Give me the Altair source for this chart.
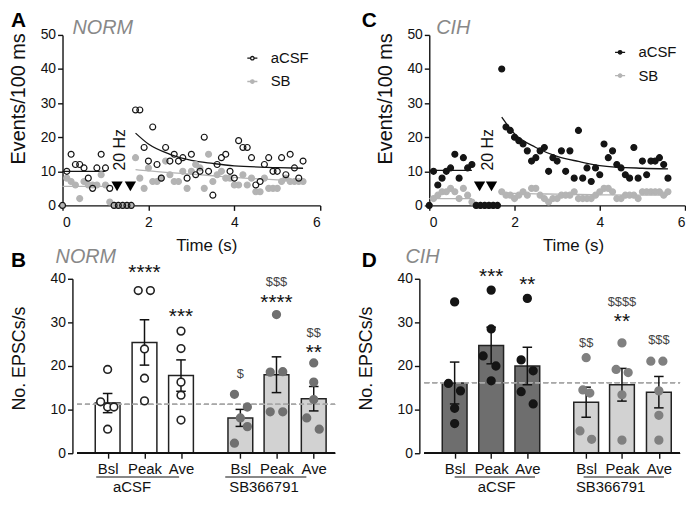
import altair as alt
import pandas as pd

FONT = "Liberation Sans"
BLACK = "#151515"
LIGHT = "#b4b4b4"

# ---------------- time-course data (events per 100 ms bin) ----------------
bins = [round(0.1 * i, 1) for i in range(57)]  # 0.0 ... 5.6 s

norm_acsf = [0, 10, 15, 12, 12, 11, 8, 5, 11, 15, 11, 5,
             0, 0, 0, 0, 0,
             28, 28, 17, 13, 23, 12, 8, 17, 13, 15, 13, 14, 8, 15, 9, 10, 20, 10, 3, 12,
             14, 15, 10, 8, 19, 17, 17, 14, 6, 7, 12, 14, 10, 10, 14, 9, 15, 11, 8, 13]
norm_sb = [0, 8, 7, 6, 2, 7, 6, 6, 6, 9, 6, 1,
           0, 0, 0, 0, 0,
           14, 8, 5, 11, 7, 7, 8, 13, 9, 7, 7, 10, 5, 10, 12, 11, 5, 15, 7, 9,
           10, 8, 8, 6, 6, 9, 6, 8, 4, 4, 8, 5, 5, 5, 7, 8, 7, 7, 7, 7]
cih_acsf = [0, 10, 6, 8, 10, 11, 15, 8, 14, 11, 12,
            0, 0, 0, 0, 0, 0,
            40, 23, 22, 20, 19, 18, 16, 13, 14, 16, 17, 10, 14, 13, 16, 10, 16, 8, 22, 8,
            11, 7, 11, 9, 18, 14, 16, 12, 11, 9, 8, 17, 8, 13, 9, 13, 13, 14, 12, 8]
cih_sb = [0, 2, 3, 4, 4, 5, 4, 2, 5, 3, 1,
          0, 0, 0, 0, 0, 0,
          4, 3, 3, 2, 3, 4, 3, 5, 5, 3, 2, 1, 2, 2, 3, 3, 3, 4, 2, 2,
          2, 2, 3, 4, 5, 5, 4, 2, 2, 3, 3, 3, 2, 4, 4, 4, 4, 4, 3, 4]

# fitted curves
fit_t = [0.0, 1.0, 1.7, 2.0, 2.5, 3.0, 3.5, 4.0, 5.0, 5.6]
fit_seg = ["base", "base", "post", "post", "post", "post", "post", "post", "post", "post"]
norm_acsf_fit = [10, 10, 21.2, 18, 15, 13.2, 12.3, 11.6, 11.1, 10.9]
norm_sb_fit = [5.6, 5.6, 10.5, 10.1, 9.6, 9.2, 8.7, 8.2, 7.5, 7.2]
cih_acsf_fit = [10.3, 10.3, 25.9, 21, 17, 14.4, 12.9, 11.7, 10.9, 10.7]
cih_sb_fit = [2.0, 2.0, 3.6, 3.5, 3.4, 3.3, 3.2, 3.1, 3.0, 3.0]

series_names = ["aCSF", "SB"]

# ---------------- summary (bar) data ----------------
bar_pos = [0.83, 1.83, 2.82, 4.43, 5.41, 6.42]
cat_labels = ["Bsl", "Peak", "Ave", "Bsl", "Peak", "Ave"]

norm_means = [11.5, 25.4, 17.8, 8.1, 18.0, 12.5]
norm_sems = [2.2, 5.2, 3.6, 1.95, 4.1, 2.8]
norm_points = [[19.2, 11.8, 10.6, 10.6, 5.5], [37.3, 37.3, 23.9, 17.2, 12.0],
               [28.0, 24.0, 16.3, 13.3, 7.6], [13.5, 10.6, 8.1, 6.1, 2.3],
               [31.8, 18.6, 18.7, 9.5, 9.5], [20.7, 16.3, 12.3, 8.1, 5.5]]
norm_jitter = [[0, -0.19, 0, 0.17, 0], [-0.17, 0.16, 0, 0, 0], [0, 0, 0, 0, 0],
               [-0.16, 0.19, 0, 0.19, -0.16], [0, -0.17, 0.17, -0.17, 0.17],
               [0, 0, 0, -0.19, 0.15]]
norm_stars = ["", "****", "***", "", "****", "**"]
norm_star_y = [0, 42.3, 32.2, 0, 35.4, 23.9]
norm_dollars = ["", "", "", "$", "$$$", "$$"]
norm_dollar_y = [0, 0, 0, 17.8, 39.0, 27.3]
norm_ref = 11.2

cih_means = [16.1, 24.7, 20.0, 11.7, 15.7, 14.0]
cih_sems = [4.8, 4.2, 4.3, 3.45, 3.75, 3.6]
cih_points = [[34.7, 16.0, 14.3, 10.3, 6.8], [37.4, 28.5, 22.3, 20.0, 16.6],
              [35.5, 21.4, 18.9, 14.1, 11.3], [21.9, 14.5, 13.8, 5.1, 3.2],
              [25.3, 19.2, 18.5, 13.4, 3.0], [21.1, 21.1, 14.3, 8.7, 3.0]]
cih_jitter = [[0, -0.17, 0.16, 0, 0], [0, 0, -0.22, 0.13, 0], [0, -0.17, 0.16, -0.17, 0.16],
              [0, -0.09, 0.1, -0.17, 0.15], [0, -0.16, 0.17, 0, 0], [-0.22, 0.11, 0, 0, 0]]
cih_stars = ["", "***", "**", "", "**", ""]
cih_star_y = [0, 41.4, 39.6, 0, 31.2, 0]
cih_dollars = ["", "", "", "$$", "$$$$", "$$$"]
cih_dollar_y = [0, 0, 0, 24.9, 34.3, 25.7]
cih_ref = 16.2

groups = ["aCSF", "SB366791"]
norm_group_x = [1.49, 5.07]
norm_line_x1 = [0.52, 4.02]
norm_line_x2 = [2.77, 6.22]
cih_group_x = [1.98, 5.1]
cih_line_x1 = [0.83, 4.36]
cih_line_x2 = [3.03, 6.56]

LEG_PATH = ("M-1.45,0L-0.55,0M0.55,0L1.45,0"
            "M0.5,0A0.5,0.5,0,1,1,-0.5,0A0.5,0.5,0,1,1,0.5,0Z")


def label_layer(letter, lx, ly, cond, cx, cy):
    df = pd.DataFrame({"a": [0]})
    let = alt.Chart(df).mark_text(font=FONT, fontSize=21, fontWeight="bold", color="#000",
                                  align="left", baseline="top").encode(
        x=alt.value(lx), y=alt.value(ly), text=alt.value(letter))
    con = alt.Chart(df).mark_text(font=FONT, fontSize=20, fontStyle="italic", color="#888",
                                  align="left", baseline="alphabetic").encode(
        x=alt.value(cx), y=alt.value(cy), text=alt.value(cond))
    return [let, con]


def time_panel(acsf, sb, acsf_fit, sb_fit, acsf_fill, letter, cond, lx, cx,
               leg_x, leg_y, stim_t, hz_t, width):
    pts = pd.DataFrame({"t": bins * 2, "v": acsf + sb,
                        "series": [series_names[0]] * len(bins) + [series_names[1]] * len(bins)})
    fit = pd.DataFrame({"t": fit_t * 2, "v": acsf_fit + sb_fit,
                        "col": [BLACK] * len(fit_t) + [LIGHT] * len(fit_t),
                        "seg": fit_seg * 2})
    fit["key"] = fit["col"] + fit["seg"]
    stim = pd.DataFrame({"t": stim_t, "v": [5.6] * len(stim_t)})
    hz = pd.DataFrame({"t": [hz_t], "v": [16.3], "txt": ["20 Hz"]})

    xs = alt.Scale(domain=[0, 6], nice=False)
    ys = alt.Scale(domain=[0, 50], nice=False)
    xax = alt.Axis(values=[0, 2, 4, 6], title="Time (s)", labelPadding=5, titlePadding=8,
                   titleFontSize=17, titleX=145)
    yax = alt.Axis(values=[0, 10, 20, 30, 40, 50], title="Events/100 ms", titlePadding=12,
                   labelOverlap=False, titleFontSize=20, titleY=64)
    X = alt.X("t:Q", scale=xs, axis=xax)
    Y = alt.Y("v:Q", scale=ys, axis=yax)
    stroke_sc = alt.Scale(domain=series_names, range=[BLACK, LIGHT])
    fill_sc = alt.Scale(domain=series_names, range=[acsf_fill, LIGHT])
    leg = alt.Legend(title=None, orient="none", legendX=leg_x, legendY=leg_y,
                     symbolType=LEG_PATH, symbolSize=49, symbolStrokeWidth=1.3,
                     labelFont=FONT, labelFontSize=15, labelColor="#111",
                     labelOffset=11, rowPadding=7.5, padding=0)

    lines = alt.Chart(fit).mark_line(strokeWidth=1.3, interpolate="monotone").encode(
        x=X, y=Y, stroke=alt.Stroke("col:N", scale=None), detail="key:N")
    sb_layer = alt.Chart(pts[pts.series == "SB"]).mark_point(
        filled=True, size=36, strokeWidth=1.2, opacity=1).encode(
        x=X, y=Y,
        fill=alt.Fill("series:N", scale=fill_sc, legend=leg),
        stroke=alt.Stroke("series:N", scale=stroke_sc, legend=leg))
    ac_layer = alt.Chart(pts[pts.series == "aCSF"]).mark_point(
        filled=True, size=36, strokeWidth=1.2, opacity=1).encode(
        x=X, y=Y,
        fill=alt.Fill("series:N", scale=fill_sc, legend=leg),
        stroke=alt.Stroke("series:N", scale=stroke_sc, legend=leg))
    tri = alt.Chart(stim).mark_point(shape="triangle-down", filled=True, size=130,
                                     color="#000", opacity=1).encode(x=X, y=Y)
    hzt = alt.Chart(hz).mark_text(font=FONT, fontSize=16, angle=270, color="#111",
                                  baseline="middle", align="center").encode(
        x=X, y=Y, text="txt:N")
    layers = [lines, sb_layer, ac_layer, tri, hzt] + label_layer(letter, lx, -25, cond, cx, -1)
    return alt.layer(*layers).properties(width=width, height=172)


def bar_panel(means, sems, points, jitter, stars, star_y, dollars, dollar_y, ref,
              fills, pt_fill, pt_stroke, group_x, line_x1, line_x2,
              letter, cond, lx, cx, width, x_min, y_offset):
    bars = pd.DataFrame({"pos": bar_pos, "mean": means, "sem": sems,
                         "fill": fills, "cat": cat_labels})
    bars["lo"] = bars["mean"] - bars["sem"]
    bars["hi"] = bars["mean"] + bars["sem"]
    caps = pd.DataFrame({"x1": [p - 0.13 for p in bar_pos] * 2,
                         "x2": [p + 0.13 for p in bar_pos] * 2,
                         "y": list(bars["lo"]) + list(bars["hi"])})
    rows = []
    for i, p in enumerate(bar_pos):
        for v, j in zip(points[i], jitter[i]):
            rows.append({"x": p + j, "v": v, "f": pt_fill[i], "s": pt_stroke[i]})
    pts = pd.DataFrame(rows)
    st = pd.DataFrame({"pos": bar_pos, "y": star_y, "txt": stars})
    st = st[st.txt != ""]
    dl = pd.DataFrame({"pos": bar_pos, "y": dollar_y, "txt": dollars})
    dl = dl[dl.txt != ""]
    grp = pd.DataFrame({"x": group_x, "x1": line_x1, "x2": line_x2, "txt": groups})

    xs = alt.Scale(domain=[x_min, 7], nice=False, zero=False)
    ys = alt.Scale(domain=[0, 40], nice=False)
    lab_expr = ("['Bsl','Peak','Ave','Bsl','Peak','Ave'][indexof(" +
                str(bar_pos) + ", datum.value)]")
    xax = alt.Axis(values=bar_pos, labelExpr=lab_expr, title=None, labelFontSize=15,
                   labelPadding=3, labelFlush=False, labelOverlap=False, domain=False)
    yax = alt.Axis(values=[0, 10, 20, 30, 40], title="No. EPSCs/s", titlePadding=22,
                   labelOverlap=False, offset=y_offset, titleFontSize=18, titleY=80)

    base_bar = alt.Chart(bars).mark_bar(size=25, stroke="#222", strokeWidth=1.5).encode(
        x=alt.X("pos:Q", scale=xs, axis=xax),
        y=alt.Y("mean:Q", scale=ys, axis=yax),
        fill=alt.Fill("fill:N", scale=None))
    baseline = alt.Chart(bars).mark_rule(color="#111", strokeWidth=1.4).encode(
        x=alt.datum(0), x2=alt.datum(7), y=alt.datum(0))
    refl = alt.Chart(bars).mark_rule(strokeDash=[5, 3], color="#a8a8a8", strokeWidth=1.4).encode(
        x=alt.datum(0), x2=alt.datum(7), y=alt.datum(ref))
    err = alt.Chart(bars).mark_rule(color="#111", strokeWidth=1.5).encode(
        x="pos:Q", y="lo:Q", y2="hi:Q")
    cap = alt.Chart(caps).mark_rule(color="#111", strokeWidth=1.5).encode(
        x="x1:Q", x2="x2:Q", y="y:Q")
    dots = alt.Chart(pts).mark_point(filled=True, size=60, strokeWidth=1.6, opacity=1).encode(
        x="x:Q", y="v:Q", fill=alt.Fill("f:N", scale=None), stroke=alt.Stroke("s:N", scale=None))
    star_t = alt.Chart(st).mark_text(font=FONT, fontSize=21, color="#111", dy=4.5).encode(
        x="pos:Q", y="y:Q", text="txt:N")
    dol_t = alt.Chart(dl).mark_text(font=FONT, fontSize=13, color="#444", dy=-1.5).encode(
        x="pos:Q", y="y:Q", text="txt:N")
    gl = alt.Chart(grp).mark_rule(color="#111", strokeWidth=1.2).encode(
        x="x1:Q", x2="x2:Q", y=alt.datum(-5.45))
    gt = alt.Chart(grp).mark_text(font=FONT, fontSize=15, color="#111", baseline="middle").encode(
        x="x:Q", y=alt.datum(-7.8), text="txt:N")
    layers = [base_bar, baseline, refl, err, cap, dots, star_t, dol_t, gl, gt] + \
        label_layer(letter, lx, -29, cond, cx, -16)
    return alt.layer(*layers).properties(width=width, height=176)


A = time_panel(norm_acsf, norm_sb, norm_acsf_fit, norm_sb_fit, "transparent",
               "A", "NORM", -52, 10, 184, 16, [1.27, 1.58], 1.35, 260)
C = time_panel(cih_acsf, cih_sb, cih_acsf_fit, cih_sb_fit, BLACK,
               "C", "CIH", -68, 7, 185, 10, [1.18, 1.46], 1.38, 258)
B = bar_panel(norm_means, norm_sems, norm_points, norm_jitter, norm_stars, norm_star_y,
              norm_dollars, norm_dollar_y, norm_ref,
              ["white", "white", "white", "#d2d2d2", "#d2d2d2", "#d2d2d2"],
              ["white"] * 3 + ["#707070"] * 3, ["#222"] * 3 + ["#707070"] * 3,
              norm_group_x, norm_line_x1, norm_line_x2, "B", "NORM", -52, -7,
              280, -10 / 38.57, -10)
D = bar_panel(cih_means, cih_sems, cih_points, cih_jitter, cih_stars, cih_star_y,
              cih_dollars, cih_dollar_y, cih_ref,
              ["#6e6e6e"] * 3 + ["#d2d2d2"] * 3,
              [BLACK] * 3 + ["#808080"] * 3, [BLACK] * 3 + ["#808080"] * 3,
              cih_group_x, cih_line_x1, cih_line_x2, "D", "CIH", -58, -14,
              268, 0, 0)

top = alt.HConcatChart(hconcat=[A, C], spacing=110, bounds="flush").resolve_scale(
    fill="independent", stroke="independent").resolve_legend(
    fill="independent", stroke="independent")
bottom = alt.HConcatChart(hconcat=[B, D], spacing=80, bounds="flush")
chart = alt.VConcatChart(vconcat=[top, bottom], spacing=-6,
                         padding=0).resolve_scale(
    fill="independent", stroke="independent").resolve_legend(
    fill="independent", stroke="independent").configure_view(
    stroke=None).configure_axis(
    labelFont=FONT, labelFontSize=14, labelColor="#111", titleFont=FONT, titleFontSize=17,
    titleFontWeight="normal", titleColor="#111", domainColor="#111", tickColor="#111",
    domainWidth=1.4, tickWidth=1.4, tickSize=5, grid=False)

chart.save("out.html", embed_options={"renderer": "svg", "actions": False})
